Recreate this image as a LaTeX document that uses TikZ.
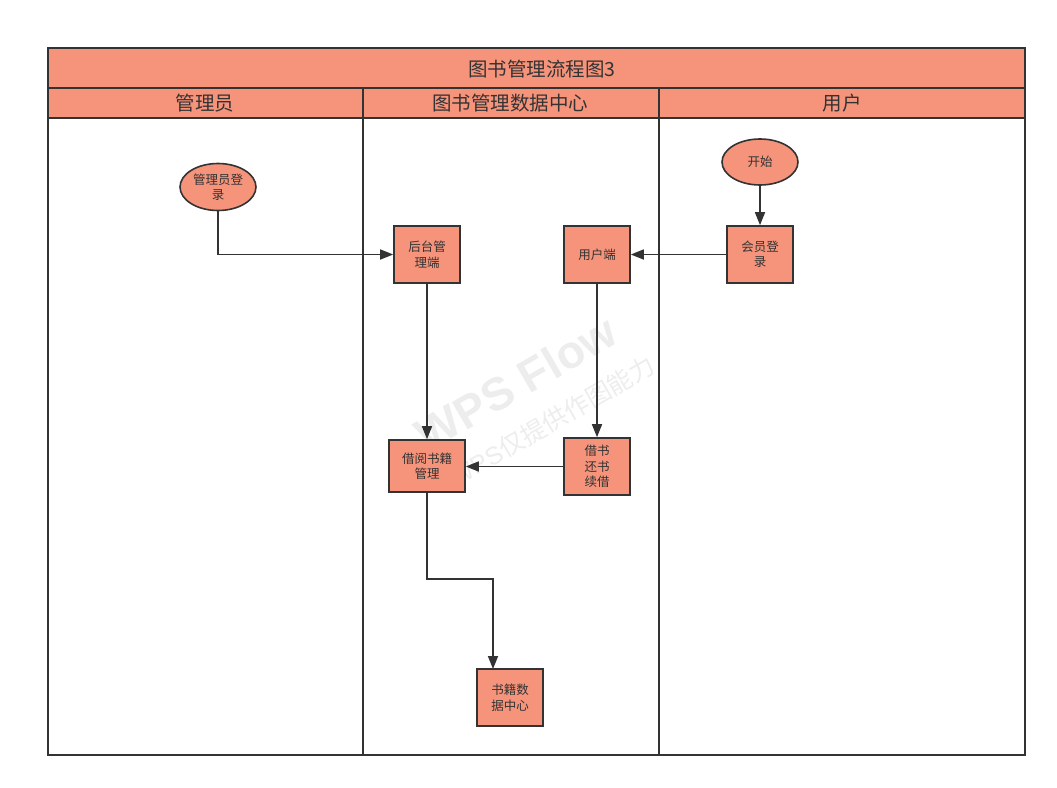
\documentclass[tikz,border=0pt]{standalone}
\usepackage{fontspec}
\setmainfont{Noto Sans CJK SC}
\newfontfamily\wmfont{Liberation Sans}
\usetikzlibrary{arrows.meta,shapes.geometric}
\definecolor{salmon}{HTML}{F5937B}
\definecolor{ink}{HTML}{333333}
\tikzset{
  lane/.style={draw=ink,line width=1.6pt},
  procbox/.style={draw=ink,line width=1.6pt,fill=salmon,minimum width=66pt,minimum height=57pt,inner sep=0pt,align=center,font=\fontsize{12.5}{15.5}\selectfont,text=ink},
  termnode/.style={ellipse,draw=ink,line width=1.6pt,fill=salmon,minimum width=76pt,minimum height=47pt,inner sep=0pt,align=center,font=\fontsize{12.5}{15.5}\selectfont,text=ink},
  flow/.style={draw=ink,line width=1.6pt,-{Triangle[length=13pt,width=10pt]}},
  hdr/.style={font=\fontsize{19.5}{22}\selectfont,text=ink}
}
\begin{document}
\begin{tikzpicture}[x=1pt,y=-1pt]
\useasboundingbox (0,0) rectangle (1057,787);
% frame
\fill[salmon] (48,48) rectangle (1025,118);
\draw[lane] (48,48) rectangle (1025,755);
\draw[lane] (48,88) -- (1025,88);
\draw[lane] (48,118) -- (1025,118);
\draw[lane] (363,88) -- (363,755);
\draw[lane] (659,88) -- (659,755);
\node[hdr] (title) at (542,69) {图书管理流程图3};
\node[hdr] (h1) at (205,103) {管理员};
\node[hdr] (h2) at (510,103) {图书管理数据中心};
\node[hdr] (h3) at (842,103) {用户};
% watermark
\node[rotate=30,text=black!7,font=\wmfont\bfseries\fontsize{46}{46}\selectfont] (wm1) at (516,383) {WPS Flow};
\node[rotate=30,text=black!7,font=\fontsize{25}{25}\selectfont] (wm2) at (552,421) {{\wmfont WPS}仅提供作图能力};
% nodes
\node[termnode] (admin) at (218,187) {管理员登\\录};
\node[procbox] (back) at (427,254.5) {后台管\\理端};
\node[procbox] (user) at (597,254.5) {用户端};
\node[termnode,minimum height=46pt] (start) at (760,162) {开始};
\node[procbox] (login) at (760,254.5) {会员登\\录};
\node[procbox,minimum width=76pt,minimum height=52pt] (borrow) at (427,466) {借阅书籍\\管理};
\node[procbox] (ops) at (597,466.5) {借书\\还书\\续借};
\node[procbox] (data) at (510,697.5) {书籍数\\据中心};
\coordinate (dtop) at (493,669);
% connectors
\draw[flow] (admin.south) |- (back.west);
\draw[flow] (start.south) -- (login.north);
\draw[flow] (login.west) -- (user.east);
\draw[flow] (back.south) -- (borrow.north);
\draw[flow] (user.south) -- (ops.north);
\draw[flow] (ops.west) -- (borrow.east |- ops.west);
\draw[flow] (borrow.south) -- (427,579) -| (dtop);
\end{tikzpicture}
\end{document}
